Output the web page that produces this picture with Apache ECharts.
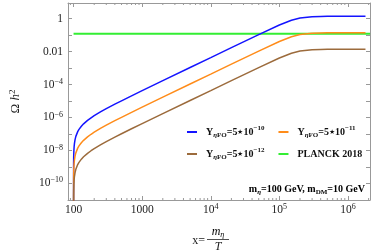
<!DOCTYPE html>
<html><head><meta charset="utf-8">
<script src="https://cdn.jsdelivr.net/npm/echarts@6/dist/echarts.min.js"></script>
<style>html,body{margin:0;padding:0;background:#fff}#c{width:374px;height:251px}</style>
</head><body><div id="c"></div>
<script>
// ---- data ----
const xValues = [100, 100.2, 100.5, 101, 102, 103, 105, 108, 110, 115, 120, 130, 140, 160, 180, 200, 250, 300, 400, 500, 700, 1000, 2000, 5000, 1e4, 2e4, 5e4, 1e5, 1.5e5, 2e5, 3e5, 4e5, 5e5, 7e5, 1e6, 1.8e6];
const blueValues = [1e-13, 1.71e-9, 4.28e-9, 8.58e-9, 1.72e-8, 2.60e-8, 4.37e-8, 7.10e-8, 8.96e-8, 1.38e-7, 1.88e-7, 2.94e-7, 4.10e-7, 6.66e-7, 9.56e-7, 1.28e-6, 2.24e-6, 3.41e-6, 6.40e-6, 1.02e-5, 2.05e-5, 4.22e-5, 1.70e-4, 1.07e-3, 4.27e-3, 1.71e-2, 0.106, 0.407, 0.786, 1.07, 1.29, 1.34, 1.36, 1.367, 1.369, 1.37];
const orangeValues = [1e-13, 1.71e-10, 4.28e-10, 8.58e-10, 1.72e-9, 2.60e-9, 4.37e-9, 7.10e-9, 8.96e-9, 1.38e-8, 1.88e-8, 2.94e-8, 4.10e-8, 6.66e-8, 9.56e-8, 1.28e-7, 2.24e-7, 3.41e-7, 6.40e-7, 1.02e-6, 2.05e-6, 4.22e-6, 1.70e-5, 1.07e-4, 4.27e-4, 1.71e-3, 0.0106, 0.0407, 0.0786, 0.107, 0.129, 0.134, 0.136, 0.1367, 0.1369, 0.137];
const brownValues = [1e-13, 1.71e-11, 4.28e-11, 8.58e-11, 1.72e-10, 2.60e-10, 4.37e-10, 7.10e-10, 8.96e-10, 1.38e-9, 1.88e-9, 2.94e-9, 4.10e-9, 6.66e-9, 9.56e-9, 1.28e-8, 2.24e-8, 3.41e-8, 6.40e-8, 1.02e-7, 2.05e-7, 4.22e-7, 1.70e-6, 1.07e-5, 4.27e-5, 1.71e-4, 1.06e-3, 4.07e-3, 7.86e-3, 1.07e-2, 1.29e-2, 1.34e-2, 1.36e-2, 1.367e-2, 1.369e-2, 1.37e-2];
const planckX = [100, 2.1e6];
const planckValues = [0.12, 0.12];
const seriesNames = ['Y1', 'Y2', 'Y3', 'PLANCK 2018'];
const legendTexts = {
  'Y1': '{b|Y}{sub|\u03b7}{subb|FO}{b|=5\u22c610}{sup|\u221210}',
  'Y2': '{b|Y}{sub|\u03b7}{subb|FO}{b|=5\u22c610}{sup|\u221211}',
  'Y3': '{b|Y}{sub|\u03b7}{subb|FO}{b|=5\u22c610}{sup|\u221212}',
  'PLANCK 2018': '{b|PLANCK 2018}'
};
const xTickLabels = {2: '{n|100}', 3: '{n|1000}', 4: '{n|10}{s|4}', 5: '{n|10}{s|5}', 6: '{n|10}{s|6}'};
const yTickLabels = {'0': '{n|1}', '-2': '{n|0.01}', '-4': '{n|10}{s|\u22124}', '-6': '{n|10}{s|\u22126}', '-8': '{n|10}{s|\u22128}', '-10': '{n|10}{s|\u221210}'};
const xMin = 83, xMax = 2.095e6;
const yMin = 9.8e-12, yMax = 8.8;

// ---- build ----
const L = v => Math.log10(v);
const pairs = (xs, ys) => xs.map((x, i) => [L(x), L(ys[i])]);
const SERIF = 'Liberation Serif';
const colors = ['#1414ff', '#ff8c1a', '#9c6b3c', '#33ee33'];
const frame = '#999999';

const minorTicks = [];
for (let d = 1; d <= 6; d++) for (let k = 2; k <= 9; k++) {
  const v = L(k * Math.pow(10, d));
  if (v > L(xMin) && v < L(xMax)) minorTicks.push([v, L(1e-5)]);
}

const axisRich = {
  n: {fontFamily: SERIF, fontSize: 11.5, color: '#222', lineHeight: 14},
  s: {fontFamily: SERIF, fontSize: 8, color: '#222', verticalAlign: 'top', lineHeight: 14, padding: [0, 0, 6, 0]}
};
const legendRich = {
  b: {fontFamily: SERIF, fontWeight: 'bold', fontSize: 10, color: '#111', lineHeight: 14},
  sub: {fontFamily: SERIF, fontWeight: 'bold', fontStyle: 'italic', fontSize: 7, color: '#111', verticalAlign: 'bottom', lineHeight: 14, padding: [4, 0, 0, 0]},
  subb: {fontFamily: SERIF, fontWeight: 'bold', fontSize: 7, color: '#111', verticalAlign: 'bottom', lineHeight: 14, padding: [4, 0, 0, 0]},
  sup: {fontFamily: SERIF, fontWeight: 'bold', fontSize: 7, color: '#111', verticalAlign: 'top', lineHeight: 14, padding: [0, 0, 5, 0]}
};

function xAxisDef(pos, show) {
  return {
    type: 'value', position: pos, min: L(xMin), max: L(xMax), splitNumber: 5,
    axisLine: {show: true, onZero: false, lineStyle: {color: frame, width: 1}},
    axisTick: {show: true, inside: true, length: 4, lineStyle: {color: frame}},
    splitLine: {show: false},
    axisLabel: show ? {
      show: true, margin: 3, showMinLabel: false, showMaxLabel: false,
      formatter: v => { const k = Math.round(v); return Math.abs(v - k) < 1e-6 && xTickLabels[k] ? xTickLabels[k] : ''; },
      rich: axisRich
    } : {show: false}
  };
}
function yAxisDef(pos, show) {
  const a = {
    type: 'value', position: pos, min: L(yMin), max: L(yMax), splitNumber: 12,
    axisLine: {show: true, onZero: false, lineStyle: {color: frame, width: 1}},
    axisTick: {show: true, inside: true, length: 4, lineStyle: {color: frame}},
    splitLine: {show: false},
    axisLabel: show ? {
      show: true, margin: 5, showMinLabel: false, showMaxLabel: false,
      formatter: v => { const k = Math.round(v); return Math.abs(v - k) < 1e-6 && yTickLabels[String(k)] ? yTickLabels[String(k)] : ''; },
      rich: axisRich
    } : {show: false}
  };
  if (show) {
    a.name = '{o|\u03a9 }{h|h}{t|2}';
    a.nameLocation = 'middle';
    a.nameRotate = 90;
    a.nameGap = 44;
    a.nameTextStyle = {rich: {
      o: {fontFamily: SERIF, fontSize: 13, color: '#222', lineHeight: 16},
      h: {fontFamily: SERIF, fontStyle: 'italic', fontSize: 13, color: '#222', lineHeight: 16},
      t: {fontFamily: SERIF, fontSize: 9, color: '#222', verticalAlign: 'top', lineHeight: 16, padding: [0, 0, 6, 0]}
    }};
  }
  return a;
}

const lineSeries = (name, data, color, w, z) => ({
  name, type: 'line', data, showSymbol: false, symbol: 'none', smooth: false, clip: true,
  lineStyle: {color, width: w}, itemStyle: {color}, z, animation: false
});

const chart = echarts.init(document.getElementById('c'), null, {renderer: 'canvas'});
chart.setOption({
  animation: false,
  backgroundColor: '#fff',
  grid: {left: 51, top: 3, width: 319, height: 197, containLabel: false},
  xAxis: [xAxisDef('bottom', true), xAxisDef('top', false)],
  yAxis: [yAxisDef('left', true), yAxisDef('right', false)],
  legend: [
    {data: [seriesNames[0], seriesNames[1]], left: 182, top: 120, orient: 'horizontal', icon: 'rect', itemWidth: 10, itemHeight: 2, itemGap: 14,
     formatter: n => legendTexts[n], textStyle: {rich: legendRich, padding: [0, 0, 0, 4]}},
    {data: [seriesNames[2], seriesNames[3]], left: 182, top: 142, orient: 'horizontal', icon: 'rect', itemWidth: 10, itemHeight: 2, itemGap: 14,
     formatter: n => legendTexts[n], textStyle: {rich: legendRich, padding: [0, 0, 0, 4]}}
  ],
  series: [
    lineSeries(seriesNames[3], pairs(planckX, planckValues), colors[3], 2, 2),
    lineSeries(seriesNames[0], pairs(xValues, blueValues), colors[0], 1.5, 3),
    lineSeries(seriesNames[1], pairs(xValues, orangeValues), colors[1], 1.5, 4),
    lineSeries(seriesNames[2], pairs(xValues, brownValues), colors[2], 1.5, 5),
    {
      type: 'custom', silent: true, data: minorTicks, z: 1, clip: false,
      renderItem: (params, api) => {
        const cs = params.coordSys;
        const x = api.coord([api.value(0), api.value(1)])[0];
        const b = cs.y + cs.height, t = cs.y;
        return {type: 'group', children: [
          {type: 'line', shape: {x1: x, y1: b, x2: x, y2: b - 2}, style: {stroke: frame, lineWidth: 1}},
          {type: 'line', shape: {x1: x, y1: t, x2: x, y2: t + 2}, style: {stroke: frame, lineWidth: 1}}
        ]};
      }
    }
  ],
  graphic: [
    {type: 'text', x: 365, y: 189, style: {
      text: '{b|m}{sub|\u03b7}{b|=100 GeV, m}{subb|DM}{b|=10 GeV}', align: 'right', verticalAlign: 'middle', rich: legendRich}},
    {type: 'text', x: 205, y: 241, style: {text: 'x=', fontFamily: SERIF, fontSize: 12, fill: '#222', align: 'right', verticalAlign: 'middle'}},
    {type: 'text', x: 218, y: 232, style: {text: '{m|m}{e|\u03b7}', align: 'center', verticalAlign: 'middle', rich: {
      m: {fontFamily: SERIF, fontStyle: 'italic', fontSize: 12, color: '#222', lineHeight: 14},
      e: {fontFamily: SERIF, fontStyle: 'italic', fontSize: 8, color: '#222', verticalAlign: 'bottom', lineHeight: 14, padding: [4, 0, 0, 0]}}}},
    {type: 'line', shape: {x1: 207, y1: 239.5, x2: 229, y2: 239.5}, style: {stroke: '#222', lineWidth: 0.8}},
    {type: 'text', x: 218, y: 247, style: {text: 'T', fontFamily: SERIF, fontStyle: 'italic', fontSize: 12, fill: '#222', align: 'center', verticalAlign: 'middle'}}
  ]
});
</script></body></html>
